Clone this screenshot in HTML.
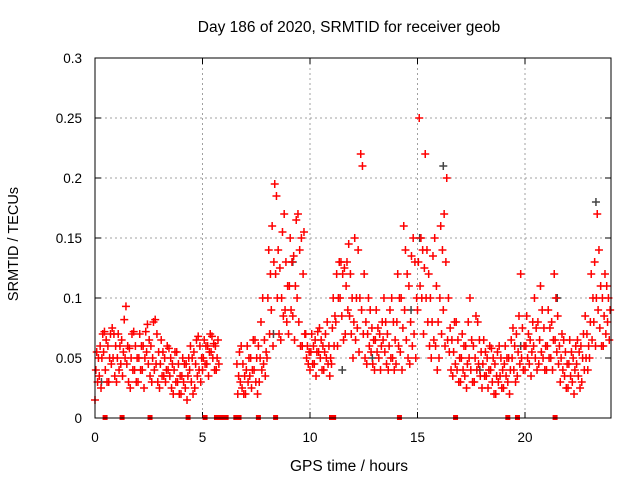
<!DOCTYPE html>
<html><head><meta charset="utf-8"><style>
html,body{margin:0;padding:0;background:#fff;}
svg{display:block;font-family:"Liberation Sans",sans-serif;}
</style></head><body>
<svg id="chart" width="640" height="480" xmlns="http://www.w3.org/2000/svg">
<rect width="640" height="480" fill="#fff"/>
<text x="349" y="32" font-size="15.5" text-anchor="middle">Day 186 of 2020, SRMTID for receiver geob</text>
<text x="349" y="471" font-size="15.5" text-anchor="middle">GPS time / hours</text>
<text transform="translate(18,244) rotate(-90)" font-size="14.5" text-anchor="middle">SRMTID / TECUs</text>
<g id="grid"></g>
<g id="ticks"></g>
<g id="marks"></g>
<rect x="95" y="58" width="516" height="360" fill="none" stroke="#000" stroke-width="1"/>
</svg>
<script>
const xTicks=[0,5,10,15,20];
const yTicks=[0,0.05,0.1,0.15,0.2,0.25,0.3];
const yTickLabels=["0","0.05","0.1","0.15","0.2","0.25","0.3"];
const lo=[.015,.025,.03,.03,.035,.03,.035,.03,.025,.03,.03,.025,.035,.03,.03,.025,.03,.025,.02,.02,.02,.015,.02,.025,.03,.04,.035,.04,.04,null,null,null,null,.02,.02,.02,.025,.02,.03,.035,.05,.06,.07,.065,.08,.07,.065,.06,.06,.045,.04,.035,.04,.04,.035,.045,.06,.065,.07,.07,.05,.055,.05,.045,.045,.04,.04,.045,.04,.04,.045,.04,.05,.045,.05,.09,.07,.06,.05,.04,.05,.06,.04,.035,.03,.03,.025,.03,.03,.035,.025,.025,.02,.02,.025,.025,.02,.03,.035,.04,.04,.035,.04,.045,.04,.04,.04,.045,.03,.025,.025,.02,.025,.03,.04,.05,.06,.06,.06,.065];
const m1=[.03,.035,.04,.045,.05,.04,.045,.045,.04,.04,.04,.04,.045,.04,.045,.035,.035,.035,.03,.03,.03,.025,.03,.035,.04,.045,.045,.05,.045,null,null,null,null,.03,.025,.03,.035,.03,.04,.045,.07,.09,.1,.085,.09,.09,.085,.08,.07,.05,.045,.045,.05,.05,.045,.06,.08,.085,.09,.085,.065,.075,.07,.06,.055,.055,.05,.055,.05,.05,.06,.055,.065,.06,.07,.11,.1,.08,.065,.06,.07,.09,.055,.045,.04,.04,.035,.04,.04,.045,.035,.035,.03,.03,.035,.035,.03,.04,.045,.05,.05,.045,.05,.055,.05,.05,.05,.055,.04,.035,.035,.03,.035,.04,.05,.065,.08,.075,.07,.08];
const m2=[.04,.05,.055,.05,.06,.05,.055,.05,.05,.05,.05,.05,.055,.05,.055,.045,.04,.04,.04,.035,.035,.035,.04,.045,.05,.05,.055,.055,.05,null,null,null,null,.035,.035,.04,.04,.04,.05,.055,.1,.13,.12,.1,.11,.11,.11,.1,.12,.055,.055,.055,.055,.055,.05,.075,.1,.1,.11,.1,.08,.1,.09,.07,.065,.065,.06,.065,.06,.065,.08,.075,.09,.08,.1,.13,.125,.1,.08,.08,.1,.13,.065,.055,.05,.05,.045,.05,.05,.055,.045,.04,.04,.035,.04,.045,.04,.05,.055,.06,.06,.055,.06,.065,.06,.06,.065,.065,.05,.045,.045,.04,.045,.05,.06,.08,.1,.09,.085,.09];
const m3=[.05,.06,.065,.06,.07,.06,.065,.06,.058,.06,.06,.06,.065,.06,.07,.055,.05,.05,.045,.045,.045,.045,.05,.055,.06,.06,.06,.062,.06,null,null,null,null,.045,.045,.05,.05,.05,.06,.065,.12,.16,.14,.125,.13,.13,.135,.14,.15,.06,.06,.065,.065,.06,.06,.085,.12,.12,.125,.12,.1,.14,.12,.08,.075,.075,.07,.08,.07,.08,.1,.1,.12,.11,.13,.15,.14,.12,.1,.11,.14,.17,.075,.065,.065,.06,.06,.065,.06,.065,.055,.05,.05,.045,.05,.05,.05,.06,.07,.075,.07,.065,.075,.08,.075,.075,.08,.085,.06,.055,.055,.05,.055,.06,.07,.1,.13,.11,.1,.1];
const hi=[.055,.07,.072,.07,.075,.07,.082,.093,.07,.072,.07,.072,.078,.08,.082,.065,.06,.058,.055,.055,.05,.05,.06,.065,.068,.065,.07,.068,.065,null,null,null,null,.055,.06,.06,.065,.065,.08,.1,.14,.195,.185,.155,.17,.15,.165,.17,.155,.07,.07,.072,.075,.07,.08,.1,.13,.13,.13,.145,.15,.22,.21,.1,.09,.09,.08,.1,.09,.1,.12,.16,.14,.135,.15,.25,.22,.14,.135,.15,.16,.2,.1,.08,.08,.07,.08,.1,.085,.08,.065,.06,.058,.055,.06,.06,.065,.075,.085,.12,.085,.08,.1,.11,.09,.09,.12,.1,.07,.065,.065,.06,.065,.07,.085,.12,.17,.14,.12,.11];
const grayT=[0.3,8.3,9.2,11.5,14.7,15.1,16.2,17.9,21.5,23.3,12.9,19.8];
const grayV=[.03,.07,.13,.04,.09,.15,.21,.04,.1,.18,.05,.06];
const zeroT=[0.47,1.26,2.56,4.33,5.12,5.65,5.8,5.95,6.1,6.55,6.7,7.6,8.4,11.0,11.1,14.16,16.77,19.2,19.65,21.4];
const STEP=0.2;
const NS="http://www.w3.org/2000/svg";
const X=t=>95+t*(516/24);
const Y=v=>418-v*(360/0.3);
const grid=document.getElementById('grid'),ticks=document.getElementById('ticks'),marks=document.getElementById('marks');
function mk(tag,attrs,parent){const e=document.createElementNS(NS,tag);for(const k in attrs)e.setAttribute(k,attrs[k]);parent.appendChild(e);return e;}
xTicks.forEach(t=>{
  if(t>0){const g=mk('line',{x1:X(t),x2:X(t),y1:58,y2:418,stroke:'#a0a0a0','stroke-dasharray':'2,3'},grid);
  
  }
  const a=mk('line',{x1:X(t),x2:X(t),y1:418,y2:412,stroke:'#000'},ticks);
  
  
  const b=mk('line',{x1:X(t),x2:X(t),y1:58,y2:64,stroke:'#000'},ticks);
  
  
  const l=mk('text',{x:X(t),y:442,'font-size':13.5,'text-anchor':'middle'},ticks);l.textContent=String(t);
  
  
});
yTicks.forEach((v,i)=>{
  if(v>0&&v<0.3){const g=mk('line',{x1:95,x2:611,y1:Y(v),y2:Y(v),stroke:'#a0a0a0','stroke-dasharray':'2,3'},grid);
  
  }
  const a=mk('line',{x1:95,x2:101,y1:Y(v),y2:Y(v),stroke:'#000'},ticks);
  
  
  const b=mk('line',{x1:605,x2:611,y1:Y(v),y2:Y(v),stroke:'#000'},ticks);
  
  
  const l=mk('text',{x:82,y:Y(v)+5,'font-size':13.5,'text-anchor':'end'},ticks);l.textContent=yTickLabels[i];
  
  
});
function plus(t,v,color,name){
  const x=X(t),y=Y(v);
  const p=mk('path',{d:`M${x-4},${y}H${x+4}M${x},${y-4}V${y+4}`,stroke:color,'stroke-width':1.5,fill:'none'},marks);
  
  
}
grayT.forEach((t,i)=>plus(t,grayV[i],'#444','gray-point'));
const series=[lo,m1,m2,m3,hi];
series.forEach((s,k)=>s.forEach((v,i)=>{if(v!==null){const off=((i*7+k*3)%5)*0.04;plus(i*STEP+off,v,'#ff0000','srmtid-point');}}));
zeroT.forEach(t=>{
  const r=mk('rect',{x:X(t)-2.5,y:415,width:5,height:5,fill:'#ff0000'},marks);
  
  
});
</script>
</body></html>
